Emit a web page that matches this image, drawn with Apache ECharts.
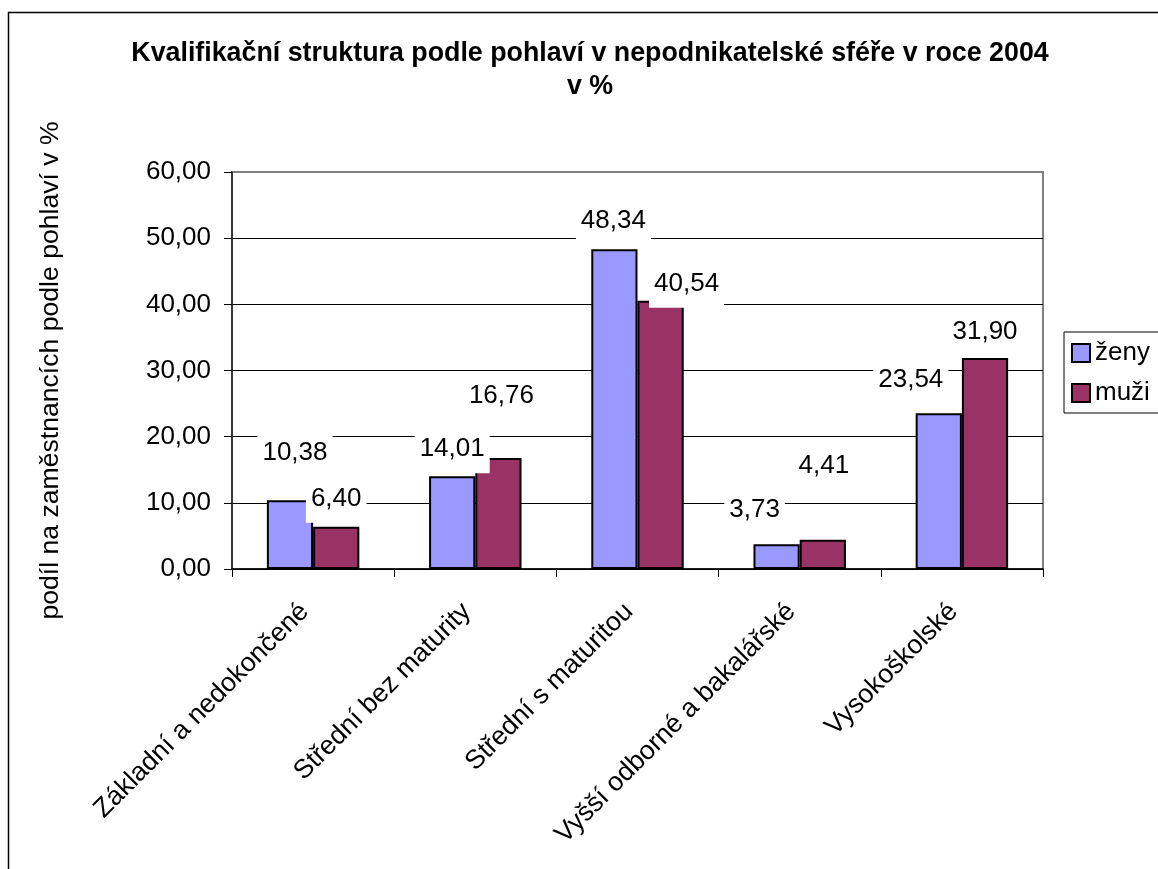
<!DOCTYPE html>
<html>
<head>
<meta charset="utf-8">
<script src="https://cdn.jsdelivr.net/npm/echarts@6/dist/echarts.min.js"></script>
<style>
html,body{margin:0;padding:0;background:#fff;}
#chart{width:1158px;height:869px;}
</style>
</head>
<body>
<div id="chart"></div>
<script>
// ---- data ----
const categories = ['Základní a nedokončené', 'Střední bez maturity', 'Střední s maturitou', 'Vyšší odborné a bakalářské', 'Vysokoškolské'];
const zeny = [10.38, 14.01, 48.34, 3.73, 23.54];
const muzi = [6.40, 16.76, 40.54, 4.41, 31.90];
const seriesNames = ['ženy', 'muži'];
const yTicks = { min: 0, max: 60, interval: 10 };

// label nudges (pixels, styling only) – mimic manually moved labels in the original
const zenyLabelShift = [[5, -23], [0, -3], [-1, -4], [-22, -10], [-28, -9]];
const muziLabelShift = [[0, -4], [3, -38], [26, 7], [1, -50], [0, -2]];

const FONT = "'Liberation Sans', Arial, sans-serif";
const fmt = v => Number(v).toFixed(2).replace('.', ',');

const labelBase = {
  show: true,
  position: 'top',
  distance: 0,
  fontFamily: FONT,
  fontSize: 26,
  lineHeight: 24,
  color: '#000',
  backgroundColor: '#fff',
  padding: [10, 5, 12, 5],
  formatter: p => fmt(p.value)
};

const chart = echarts.init(document.getElementById('chart'), null, { renderer: 'canvas' });
chart.setOption({
  animation: false,
  backgroundColor: '#fff',
  textStyle: { fontFamily: FONT },
  graphic: [{
    type: 'rect',
    silent: true,
    z: 100,
    shape: { x: 8.5, y: 12.5, width: 1300, height: 1000 },
    style: { fill: 'none', stroke: '#000', lineWidth: 1.5 }
  }],
  title: {
    text: 'Kvalifikační struktura podle pohlaví v nepodnikatelské sféře v roce 2004\nv %',
    left: 590,
    textAlign: 'center',
    top: 37,
    padding: 0,
    textStyle: { fontFamily: FONT, fontSize: 26.8, fontWeight: 'bold', color: '#000', lineHeight: 33 }
  },
  legend: {
    orient: 'vertical',
    left: 1064,
    top: 332,
    padding: [8, 30, 7, 7],
    itemWidth: 18,
    itemHeight: 18,
    itemGap: 14,
    icon: 'rect',
    borderColor: '#000',
    borderWidth: 1,
    textStyle: { fontFamily: FONT, fontSize: 26, lineHeight: 24, color: '#000' },
    data: seriesNames
  },
  grid: {
    left: 232, right: 115, top: 172, bottom: 300,
    show: true, borderColor: '#808080', borderWidth: 2, backgroundColor: '#fff'
  },
  xAxis: {
    type: 'category',
    data: categories,
    axisLine: { lineStyle: { color: '#000', width: 1.5 } },
    axisTick: { show: true, alignWithLabel: false, length: 8, lineStyle: { color: '#000', width: 1 } },
    axisLabel: { rotate: 45, margin: 30, padding: [0, 12, 0, 0], fontFamily: FONT, fontSize: 26.6, color: '#000', interval: 0 },
    splitLine: { show: false }
  },
  yAxis: {
    type: 'value',
    min: yTicks.min, max: yTicks.max, interval: yTicks.interval,
    name: 'podíl na zaměstnancích podle pohlaví v %',
    nameLocation: 'middle',
    nameRotate: 90,
    nameGap: 168,
    nameTextStyle: { fontFamily: FONT, fontSize: 26.6, color: '#000' },
    axisLine: { show: true, lineStyle: { color: '#222', width: 1.5 } },
    axisTick: { show: true, length: 8, lineStyle: { color: '#000', width: 1 } },
    axisLabel: { margin: 21, fontFamily: FONT, fontSize: 26, color: '#000', formatter: v => fmt(v) },
    splitLine: { show: true, lineStyle: { color: ['#000', '#000', '#000', '#000', '#000', '#000', '#808080'], width: 1 } }
  },
  series: [
    {
      name: seriesNames[0],
      type: 'bar',
      barGap: '0%',
      barCategoryGap: '43%',
      itemStyle: { color: '#9999FF', borderColor: '#000', borderWidth: 2 },
      label: labelBase,
      data: zeny.map((v, i) => ({ value: v, label: { offset: zenyLabelShift[i] } }))
    },
    {
      name: seriesNames[1],
      type: 'bar',
      barGap: '0%',
      barCategoryGap: '43%',
      itemStyle: { color: '#993366', borderColor: '#000', borderWidth: 2 },
      label: labelBase,
      data: muzi.map((v, i) => ({ value: v, label: { offset: muziLabelShift[i] } }))
    }
  ]
});
</script>
</body>
</html>
